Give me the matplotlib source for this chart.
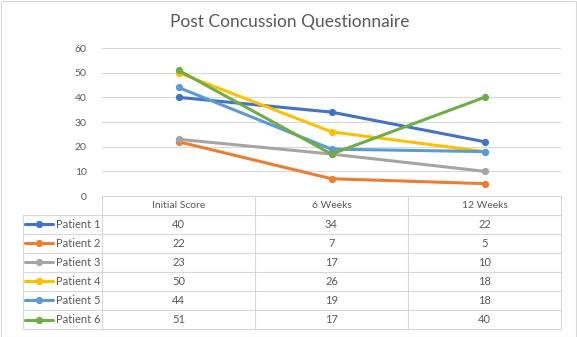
import matplotlib
matplotlib.use("Agg")
import matplotlib.pyplot as plt

categories = ["Initial Score", "6 Weeks", "12 Weeks"]
patients = ["Patient 1", "Patient 2", "Patient 3", "Patient 4", "Patient 5", "Patient 6"]
p1 = [40, 34, 22]
p2 = [22, 7, 5]
p3 = [23, 17, 10]
p4 = [50, 26, 18]
p5 = [44, 19, 18]
p6 = [51, 17, 40]
series = [p1, p2, p3, p4, p5, p6]
colors = ["#4472C4", "#ED7D31", "#A5A5A5", "#FFC000", "#5B9BD5", "#70AD47"]
yticks = [0, 10, 20, 30, 40, 50, 60]
title = "Post Concussion Questionnaire"

plt.rcParams['font.family'] = ['Lato', 'DejaVu Sans']
W, H = 577, 337
fig = plt.figure(figsize=(W / 100, H / 100), dpi=100)
fig.patch.set_facecolor("white")

def fx(px):
    return px / W

def fy(py):
    return 1 - py / H

# outer chart border
fig.add_artist(plt.Rectangle((0.5 / W, 0.5 / H), (W - 1.5) / W, (H - 1.5) / H,
                             transform=fig.transFigure, fill=False,
                             edgecolor="#d9d9d9", linewidth=0.8))

grid_c = "#d9d9d9"
text_c = "#595959"

x0, x1 = 102, 561
ytop, ybot = 48, 196
ax = fig.add_axes([fx(x0), fy(ybot), fx(x1) - fx(x0), fy(ytop) - fy(ybot)])
ax.set_xlim(-0.5, len(categories) - 0.5)
ax.set_ylim(0, 60)
ax.set_yticks(yticks)
ax.set_xticks([])
ax.grid(axis="y", color=grid_c, linewidth=0.8)
ax.set_axisbelow(True)
for s in ax.spines.values():
    s.set_visible(False)
ax.tick_params(axis="y", length=0, pad=11, labelcolor=text_c, labelsize=7.5)
xs = list(range(len(categories)))
for vals, c in zip(series, colors):
    ax.plot(xs, vals, color=c, linewidth=2.2, marker="o", markersize=4.2,
            solid_capstyle="round", clip_on=False, zorder=3)

fig.text(fx(290), fy(22), title, ha="center", va="center", fontsize=12.5,
         color=text_c)

# data table
tl, tlab, tr = 22.5, 102, 561
col_edges = [102, 255, 408, 561]
row_top = 196
hdr_h = 18.5
row_h = 19.1
tax = fig.add_axes([0, 0, 1, 1], facecolor="none")
tax.set_xlim(0, W)
tax.set_ylim(H, 0)
tax.axis("off")
n = len(patients)
bottom = row_top + hdr_h + n * row_h
lw = 0.8
tax.plot([tlab, tr], [row_top, row_top], color=grid_c, lw=lw)
for i in range(n + 1):
    yy = row_top + hdr_h + i * row_h
    tax.plot([tl, tr], [yy, yy], color=grid_c, lw=lw)
tax.plot([tl, tl], [row_top + hdr_h, bottom], color=grid_c, lw=lw)
for xe in col_edges:
    tax.plot([xe, xe], [row_top, bottom], color=grid_c, lw=lw)
for j, cat in enumerate(categories):
    cx = (col_edges[j] + col_edges[j + 1]) / 2
    tax.text(cx, row_top + hdr_h / 2 + 0.5, cat, ha="center", va="center",
             fontsize=7.5, color=text_c)
for i, (name, vals, c) in enumerate(zip(patients, series, colors)):
    cy = row_top + hdr_h + (i + 0.5) * row_h
    tax.plot([25, 53], [cy, cy], color=c, lw=2.2, solid_capstyle="round")
    tax.plot([39], [cy], color=c, marker="o", markersize=4.2)
    tax.text(55.5, cy, name, ha="left", va="center", fontsize=8, color=text_c)
    for j, v in enumerate(vals):
        cx = (col_edges[j] + col_edges[j + 1]) / 2
        tax.text(cx, cy, str(v), ha="center", va="center", fontsize=8, color=text_c)

fig.savefig("out.png", dpi=100)
